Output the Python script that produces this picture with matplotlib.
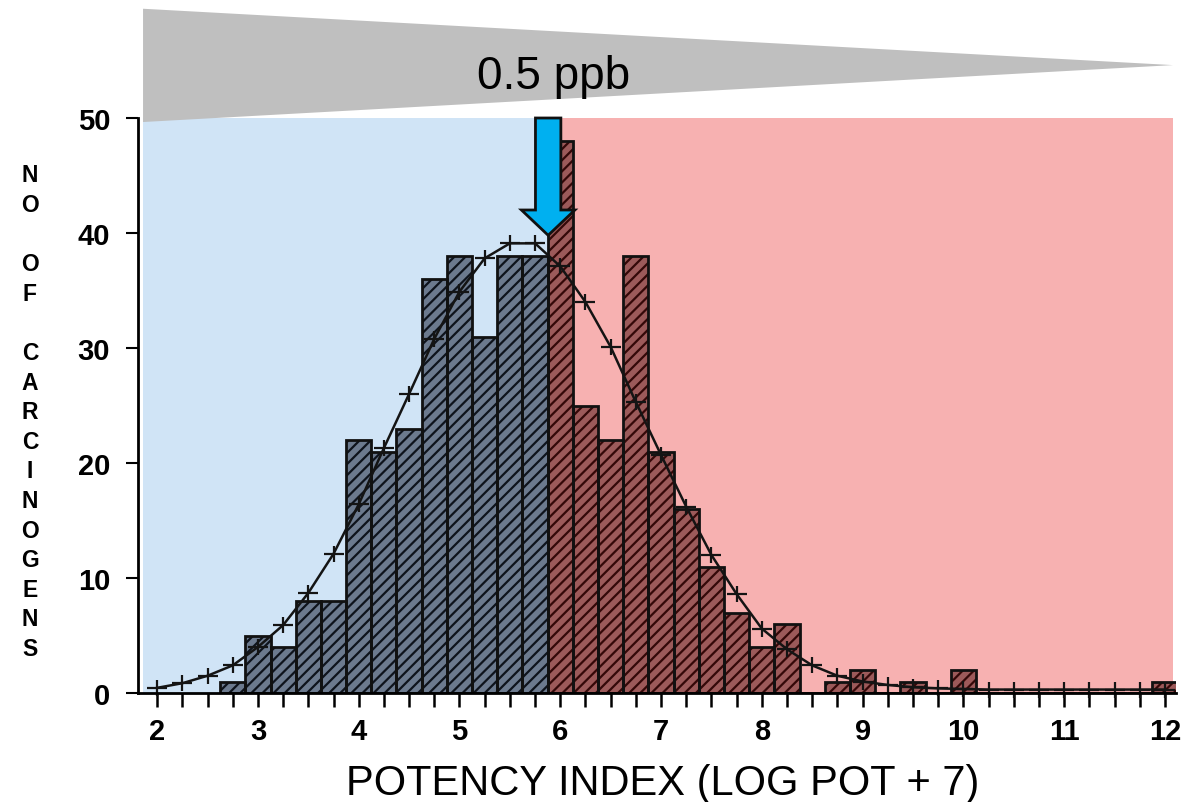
import matplotlib
matplotlib.use("Agg")
import matplotlib.pyplot as plt
from matplotlib.patches import Polygon
from matplotlib.ticker import FixedLocator, NullFormatter

# ---------------- data ----------------
bin_centers = [2.75, 3.0, 3.25, 3.5, 3.75, 4.0, 4.25, 4.5, 4.75, 5.0,
               5.25, 5.5, 5.75, 6.0, 6.25, 6.5, 6.75, 7.0, 7.25, 7.5,
               7.75, 8.0, 8.25, 8.5, 8.75, 9.0, 9.25, 9.5, 9.75, 10.0,
               10.25, 10.5, 10.75, 11.0, 11.25, 11.5, 11.75, 12.0]
counts = [1, 5, 4, 8, 8, 22, 21, 23, 36, 38,
          31, 38, 38, 48, 25, 22, 38, 21, 16, 11,
          7, 4, 6, 0, 1, 2, 0, 1, 0, 2,
          0, 0, 0, 0, 0, 0, 0, 1]

curve_x = [2.0, 2.25, 2.5, 2.75, 3.0, 3.25, 3.5, 3.75, 4.0, 4.25,
           4.5, 4.75, 5.0, 5.25, 5.5, 5.75, 6.0, 6.25, 6.5, 6.75,
           7.0, 7.25, 7.5, 7.75, 8.0, 8.25, 8.5, 8.75, 9.0, 9.25,
           9.5, 9.75, 10.0, 10.25, 10.5, 10.75, 11.0, 11.25, 11.5, 11.75, 12.0]
curve_y = [0.45, 0.85, 1.5, 2.4, 4.0, 5.9, 8.7, 12.1, 16.4, 21.3,
           26.0, 30.8, 34.9, 37.8, 39.1, 39.1, 37.1, 34.0, 30.1, 25.3,
           20.7, 16.2, 12.0, 8.6, 5.6, 3.8, 2.4, 1.5, 1.0, 0.7,
           0.5, 0.4, 0.35, 0.3, 0.3, 0.3, 0.3, 0.3, 0.3, 0.3, 0.3]

x_ticklabels = ["2", "3", "4", "5", "6", "7", "8", "9", "10", "11", "12"]
x_major = [2, 3, 4, 5, 6, 7, 8, 9, 10, 11, 12]
y_ticks = [0, 10, 20, 30, 40, 50]

threshold = 5.875          # boundary between blue and red zones (0.5 ppb)
arrow_top, arrow_tip = 50.0, 39.8
band_label = "0.5 ppb"
x_label = "POTENCY INDEX (LOG POT + 7)"
y_label = "NO OF CARCINOGENS"

# ---------------- figure ----------------
W, H = 1186, 803
fig = plt.figure(figsize=(W / 100, H / 100), dpi=100)
ax = fig.add_axes([138 / W, 1 - 694 / H, (1176 - 138) / W, (694 - 119) / H])
ax.set_xlim(1.81, 12.11)
ax.set_ylim(0, 50)
ax.set_facecolor("white")

plt.rcParams["hatch.linewidth"] = 1.6

# background zones
ax.axvspan(1.86, threshold, color="#d0e4f6", zorder=0, lw=0)
ax.axvspan(threshold, 12.08, color="#f7b1b1", zorder=0, lw=0)

# histogram bars: hatched fill tinted by zone, then black outlines
in_blue = [c < threshold for c in bin_centers]
face = ["#6c7a8e" if b else "#9c5a5a" for b in in_blue]
hatch_col = ["#0e131c" if b else "#340808" for b in in_blue]
ax.bar(bin_centers, counts, width=0.25, color=face,
       edgecolor=hatch_col, hatch="///", linewidth=0, zorder=2)
ax.bar(bin_centers, counts, width=0.25, facecolor="none",
       edgecolor="#111111", linewidth=2.0, zorder=2.5)

# fitted curve with cross markers
curve_col = "#141414"
ax.plot(curve_x, curve_y, color=curve_col, lw=1.8, zorder=3, clip_on=False)
ax.plot(curve_x, curve_y, ls="none", marker="_", ms=15, mew=1.6,
        color=curve_col, zorder=3, clip_on=False)
ax.plot(curve_x, curve_y, ls="none", marker="|", ms=12, mew=1.6,
        color=curve_col, zorder=3, clip_on=False)

# spines and ticks
for s in ["top", "right"]:
    ax.spines[s].set_visible(False)
ax.spines["left"].set_linewidth(2.0)
ax.spines["bottom"].set_linewidth(2.0)
ax.spines["left"].set_zorder(6)
ax.spines["bottom"].set_zorder(6)

ax.set_xticks(x_major)
ax.set_xticklabels(x_ticklabels)
minor = [v / 4 for v in range(8, 49) if v % 4 != 0]
ax.xaxis.set_minor_locator(FixedLocator(minor))
ax.xaxis.set_minor_formatter(NullFormatter())
ax.tick_params(axis="x", which="both", direction="out", length=10,
               width=1.8, pad=7)
ax.tick_params(axis="x", which="major", labelsize=21)
ax.set_yticks(y_ticks)
ax.tick_params(axis="y", direction="out", length=9, width=1.5, pad=11,
               labelsize=21)
for lab in ax.get_xticklabels() + ax.get_yticklabels():
    lab.set_fontfamily("Liberation Sans")
    lab.set_fontweight("bold")

# arrow at 0.5 ppb
cx = threshold + 0.005
sw, hw = 0.126, 0.265
head_base = 42.0
arrow = Polygon([(cx - sw, arrow_top), (cx + sw, arrow_top),
                 (cx + sw, head_base), (cx + hw, head_base),
                 (cx, arrow_tip), (cx - hw, head_base),
                 (cx - sw, head_base)], closed=True,
                facecolor="#00b0f0", edgecolor="#111111", lw=2.0,
                zorder=8, clip_on=False)
ax.add_patch(arrow)

# gray wedge above the plot
wedge = Polygon([(1.86, 59.5), (1.86, 49.65), (12.08, 54.6)], closed=True,
                facecolor="#bfbfbf", edgecolor="none", zorder=1,
                clip_on=False)
ax.add_patch(wedge)
ax.text(5.93, 52.6, band_label, ha="center", va="baseline", fontsize=33,
        family="Liberation Sans", color="black", zorder=9, clip_on=False)

# axis labels
fig.text(663 / W, 1 - 795 / H, x_label, ha="center", va="baseline",
         fontsize=30, family="Liberation Sans")
for k, ch in enumerate(y_label):
    if ch == " ":
        continue
    fig.text(30 / W, 1 - (176 + 29.6 * k) / H, ch, ha="center",
             va="center", fontsize=16.5, family="Liberation Sans",
             fontweight="bold")

fig.savefig("out.png", dpi=100)
